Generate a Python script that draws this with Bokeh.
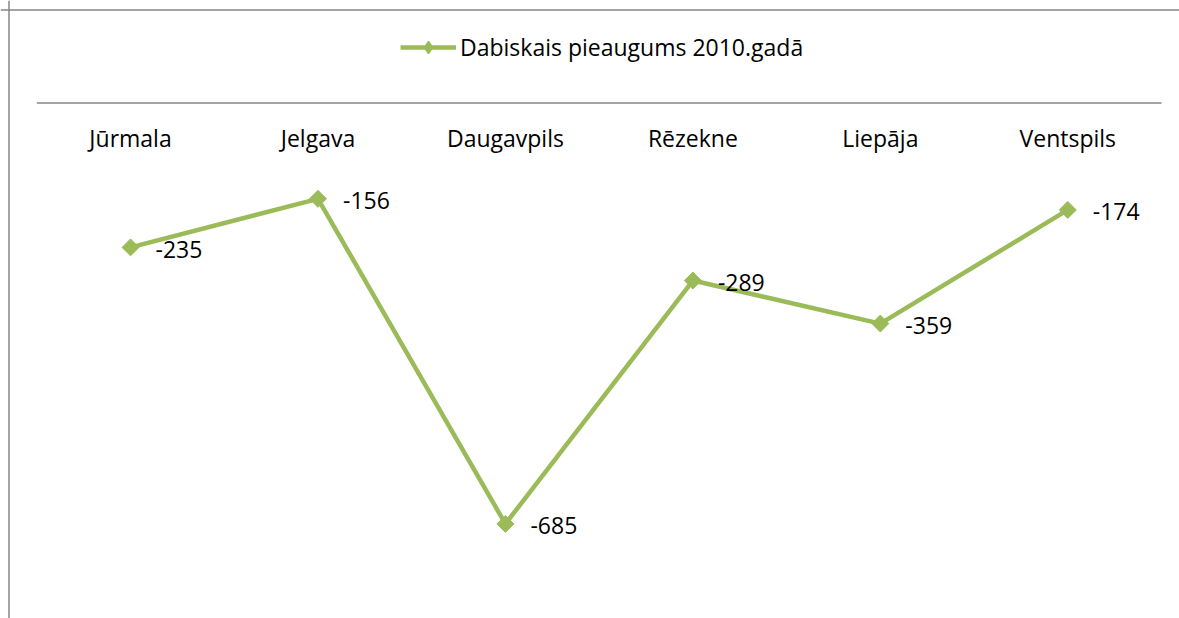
import numpy as np
from bokeh.plotting import figure
from bokeh.models import Range1d, Legend, LegendItem, ColumnDataSource, Span
from bokeh.core.properties import value
from bokeh.embed import file_html
from bokeh.resources import INLINE

categories = ["Jūrmala", "Jelgava", "Daugavpils", "Rēzekne", "Liepāja", "Ventspils"]
values = [-235, -156, -685, -289, -359, -174]
series_name = "Dabiskais pieaugums 2010.gadā"

GREEN = "#9BBB59"
GRAY = "#868686"
FONT = "Open Sans"
FS = "23px"

W, H = 1179, 618
X0, X1 = -0.1937, 6.096
Y0, Y1 = -839.0, 166.8
px_x = (X1 - X0) / W
px_y = (Y1 - Y0) / H

xpos = np.arange(len(categories)) + 0.5
src = ColumnDataSource(dict(x=xpos, y=values, cat=categories,
                            lab=[str(v) for v in values],
                            zero=[0] * len(categories),
                            ang=[np.pi / 4] * len(categories)))

p = figure(width=W, height=H, output_backend="svg", toolbar_location=None,
           x_range=Range1d(X0, X1), y_range=Range1d(Y0, Y1),
           min_border=0, min_border_left=0, min_border_right=0,
           min_border_top=0, min_border_bottom=0)
p.axis.visible = False
p.grid.visible = False
p.outline_line_color = None
p.background_fill_color = "white"
p.border_fill_color = "white"

# chart-area frame (left and top edges visible)
p.add_layout(Span(location=X0 + 8.5 * px_x, dimension="height",
                  line_color=GRAY, line_width=1.5))
p.add_layout(Span(location=Y1 - 9.5 * px_y, dimension="width",
                  line_color=GRAY, line_width=1.5))

# category axis line at zero
p.line(x=[0, len(categories)], y=[0, 0], line_color=GRAY, line_width=1.5)

# category labels below the axis line
p.text(x="x", y="zero", text="cat", source=src, text_font=value(FONT),
       text_font_size=FS, text_align="center", text_baseline="middle",
       y_offset=35, text_color="#000000")

line_r = p.line(x="x", y="y", source=src, line_color=GREEN, line_width=4.5)
mark_r = p.scatter(x="x", y="y", source=src, marker="square", size=12,
                   angle="ang", fill_color=GREEN, line_color=GREEN)

# legend-only diamond symbol (not drawn in the plot)
legend_mark = p.scatter(x="x", y="y", source=src, marker="diamond", size=14,
                        fill_color=GREEN, line_color=GREEN, line_width=1.5,
                        visible=False)

p.text(x="x", y="y", text="lab", source=src, text_font=value(FONT),
       text_font_size=FS, text_align="left", text_baseline="middle",
       x_offset=25, y_offset=2, text_color="#000000")

legend = Legend(items=[LegendItem(label=series_name, renderers=[line_r, legend_mark])],
                location=(400, 555), orientation="horizontal",
                label_text_font=FONT, label_text_font_size=FS,
                label_text_color="#000000", glyph_width=56, glyph_height=30,
                border_line_color=None, background_fill_alpha=0,
                margin=0, padding=0, label_standoff=4)
p.add_layout(legend)

open("out.html", "w").write(file_html(p, INLINE))
